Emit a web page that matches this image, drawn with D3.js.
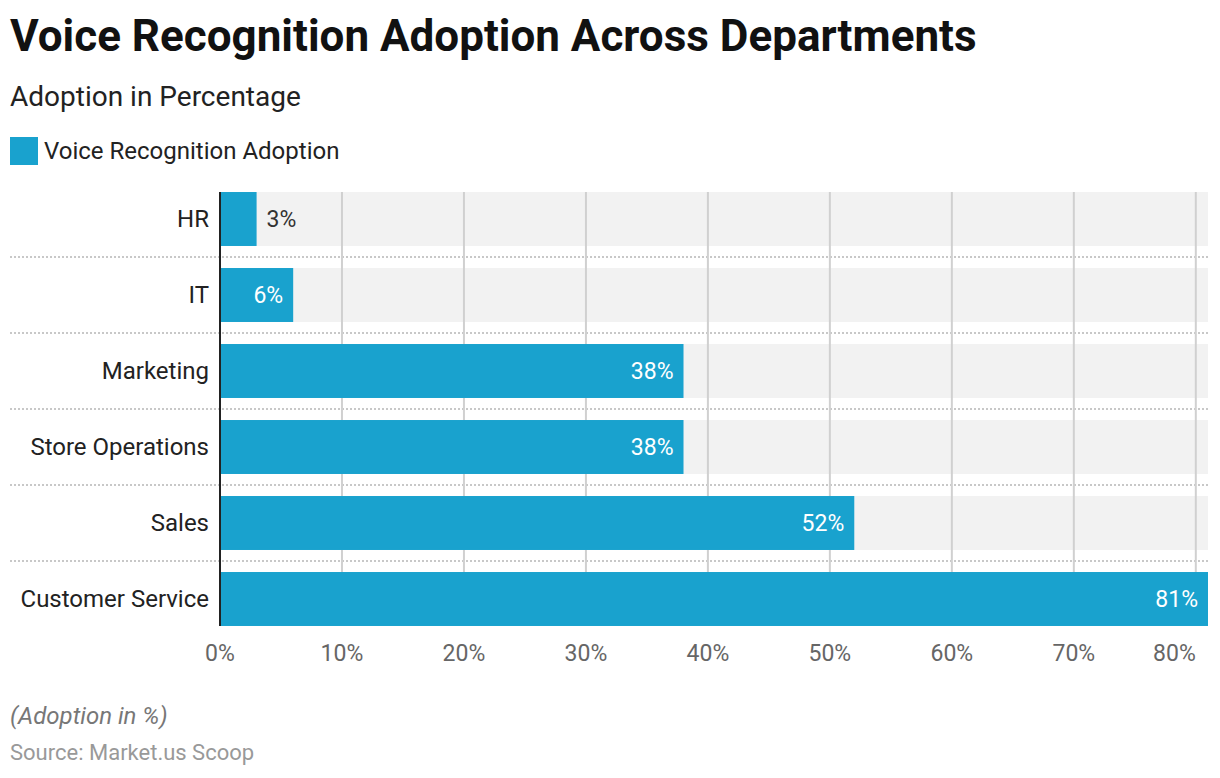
<!DOCTYPE html>
<html>
<head>
<meta charset="utf-8">
<script src="https://cdn.jsdelivr.net/npm/d3@7"></script>
<style>
  body { margin: 0; background: #fff; font-family: Roboto, sans-serif; }
</style>
</head>
<body>
<svg id="chart" width="1220" height="778"></svg>
<script>
// data
const departments = ['HR', 'IT', 'Marketing', 'Store Operations', 'Sales', 'Customer Service'];
const adoption = [3, 6, 38, 38, 52, 81];
const tickValues = [0, 10, 20, 30, 40, 50, 60, 70, 80];

const barColor = '#19a2ce';
const svg = d3.select('#chart');

const plotLeft = 220, plotRight = 1208;
const x = d3.scaleLinear().domain([0, 81]).range([plotLeft, plotRight]);
const y = d3.scaleBand().domain(departments).range([181, 637]).paddingInner(0.29).paddingOuter(0.145);

// titles
svg.append('text').attr('x', 10).attr('y', 51)
  .style('font-size', '44px').style('font-weight', 'bold').attr('fill', '#111')
  .text('Voice Recognition Adoption Across Departments');
svg.append('text').attr('x', 10).attr('y', 106)
  .style('font-size', '28px').attr('fill', '#222')
  .text('Adoption in Percentage');

// legend
svg.append('rect').attr('x', 10).attr('y', 137).attr('width', 28).attr('height', 28).attr('fill', barColor);
svg.append('text').attr('x', 44).attr('y', 159)
  .style('font-size', '24px').attr('fill', '#222')
  .text('Voice Recognition Adoption');

const rows = departments.map((d, i) => ({ name: d, value: adoption[i] }));

// grey row backgrounds
svg.append('g').selectAll('rect').data(rows).join('rect')
  .attr('x', plotLeft).attr('y', d => y(d.name))
  .attr('width', plotRight - plotLeft).attr('height', y.bandwidth())
  .attr('fill', '#f2f2f2');

// dotted separators
const step = y.step();
svg.append('g').selectAll('line').data(rows.slice(0, -1)).join('line')
  .attr('x1', 10).attr('x2', plotRight)
  .attr('y1', d => y(d.name) + y.bandwidth() / 2 + step / 2)
  .attr('y2', d => y(d.name) + y.bandwidth() / 2 + step / 2)
  .attr('stroke', '#c8c8c8').attr('stroke-width', 2).attr('stroke-dasharray', '2,2');

// vertical gridlines
const plotTop = y(departments[0]);
const plotBottom = y(departments[departments.length - 1]) + y.bandwidth();
svg.append('g').selectAll('line').data(tickValues.slice(1)).join('line')
  .attr('x1', d => x(d)).attr('x2', d => x(d))
  .attr('y1', plotTop).attr('y2', plotBottom)
  .attr('stroke', '#d0d0d0').attr('stroke-width', 2);

// bars
svg.append('g').selectAll('rect').data(rows).join('rect')
  .attr('x', plotLeft).attr('y', d => y(d.name))
  .attr('width', d => x(d.value) - plotLeft).attr('height', y.bandwidth())
  .attr('fill', barColor);

// value labels
svg.append('g').selectAll('text').data(rows).join('text')
  .attr('y', d => y(d.name) + y.bandwidth() / 2 + 8)
  .attr('x', d => d.value < 5 ? x(d.value) + 10 : x(d.value) - 10)
  .attr('text-anchor', d => d.value < 5 ? 'start' : 'end')
  .attr('fill', d => d.value < 5 ? '#333' : '#fff')
  .style('font-size', '23px')
  .text(d => d.value + '%');

// category labels
svg.append('g').selectAll('text').data(rows).join('text')
  .attr('x', 209).attr('y', d => y(d.name) + y.bandwidth() / 2 + 8)
  .attr('text-anchor', 'end').attr('fill', '#222')
  .style('font-size', '24px')
  .text(d => d.name);

// axis line
svg.append('line').attr('x1', plotLeft).attr('x2', plotLeft).attr('y1', plotTop).attr('y2', plotBottom)
  .attr('stroke', '#222').attr('stroke-width', 2);

// x tick labels (last one kept inside the plot)
svg.append('g').selectAll('text').data(tickValues).join('text')
  .attr('x', d => x(d)).attr('y', 661)
  .attr('text-anchor', (d, i) => i === tickValues.length - 1 ? 'end' : 'middle')
  .attr('fill', '#666')
  .style('font-size', '23px')
  .text(d => d + '%');

// footer
svg.append('text').attr('x', 10).attr('y', 724)
  .style('font-size', '24px').style('font-style', 'italic').attr('fill', '#777')
  .text('(Adoption in %)');
svg.append('text').attr('x', 10).attr('y', 760)
  .style('font-size', '22px').attr('fill', '#999')
  .text('Source: Market.us Scoop');
</script>
</body>
</html>
